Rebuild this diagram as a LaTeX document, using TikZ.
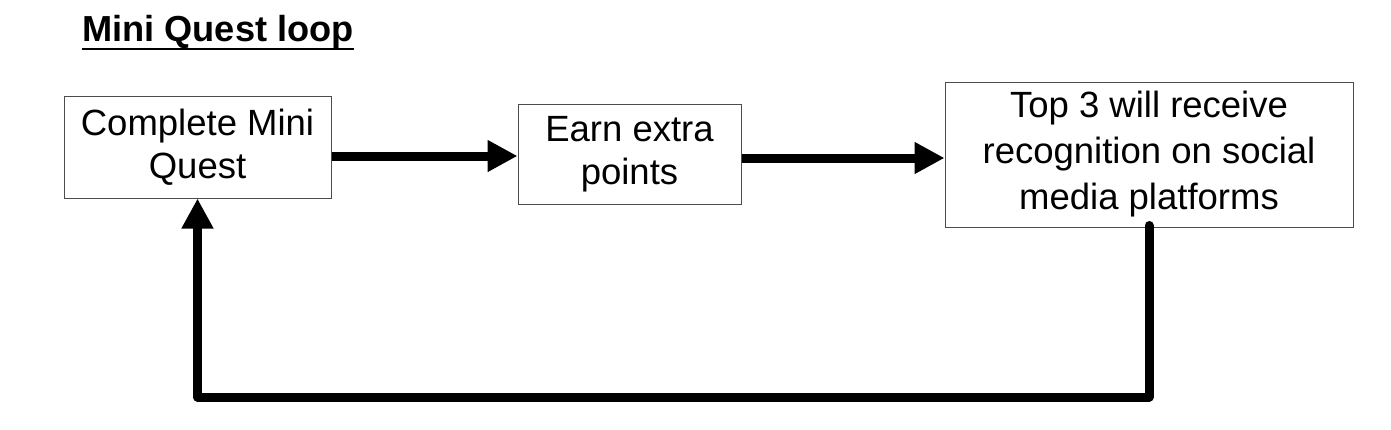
\documentclass[tikz,border=0pt]{standalone}
\usepackage{fontspec}
\setmainfont{Liberation Sans}
\usetikzlibrary{arrows.meta,calc}
\tikzset{
  flowbox/.style={draw=black!70, line width=1pt, align=center, inner sep=0pt,
    font=\fontsize{36.5}{43}\selectfont},
  thickarrow/.style={line width=9pt, -{Triangle[length=30pt,width=30pt]}},
  titletext/.style={inner sep=0pt, anchor=base west, font=\fontsize{36.2}{40}\selectfont\bfseries}
}
\begin{document}
\begin{tikzpicture}[x=1pt,y=-1pt]
\useasboundingbox (0,0) rectangle (1391,429);
\node[titletext] (title) at (82,41) {Mini Quest loop};
\draw[line width=2pt] ([yshift=-8pt]title.base west) -- ([yshift=-8pt]title.base east);

\node[flowbox, minimum width=267pt, minimum height=102pt] (b1) at (197.5,147) {Complete Mini\\Quest};
\node[flowbox, minimum width=223pt, minimum height=100pt] (b2) at (629.5,154) {Earn extra\\points};
\node[flowbox, minimum width=408pt, minimum height=145pt, font=\fontsize{36.5}{46}\selectfont] (b3) at (1149,154.5) {Top 3 will receive\\recognition on social\\media platforms};

\coordinate (loopy) at (0,397);
\draw[thickarrow] ([yshift=-9pt]b1.east) -- ([yshift=-9pt]b1.east -| b2.west);
\draw[thickarrow] ([yshift=-4pt]b2.east) -- ([yshift=-4pt]b2.east -| b3.west);
\draw[thickarrow, line join=round, line cap=round] ([yshift=2pt]b3.south) -- (b3.south |- loopy) -- (b1.south |- loopy) -- (b1.south);
\end{tikzpicture}
\end{document}
